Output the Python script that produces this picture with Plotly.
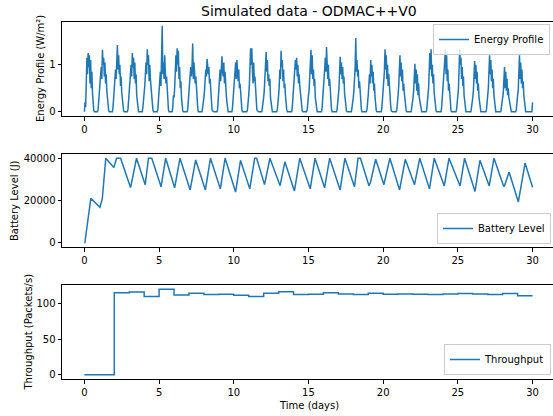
import plotly.graph_objects as go

# ---------------- data ----------------
# Energy profile (W/m^2), hourly samples, one row per day (24 h)
energy_rows = [
    [0.0, 0.2, 0.1, 0.55, 1.15, 0.8, 1.25, 0.95, 1.2, 0.6, 1.1, 0.5, 0.85, 0.4, 0.15, 0.03, 0, 0, 0, 0, 0, 0, 0.05, 0.25],
    [0.3, 0.6, 0.85, 0.95, 0.7, 1.32, 1.0, 1.15, 0.75, 1.05, 0.6, 0.8, 0.45, 0.3, 0.1, 0.02, 0, 0, 0, 0, 0, 0, 0.1, 0.35],
    [0.35, 0.65, 0.9, 0.7, 1.1, 1.42, 0.9, 1.2, 0.8, 1.0, 0.55, 0.75, 0.4, 0.25, 0.1, 0.02, 0, 0, 0, 0, 0, 0, 0.05, 0.3],
    [0.3, 0.6, 0.85, 1.0, 0.75, 1.25, 0.95, 1.15, 0.7, 1.05, 0.6, 0.8, 0.35, 0.2, 0.05, 0, 0, 0, 0, 0, 0, 0, 0.1, 0.4],
    [0.4, 0.55, 0.75, 1.05, 0.8, 1.33, 1.0, 1.2, 0.65, 1.0, 0.7, 0.5, 0.3, 0.15, 0.05, 0, 0, 0, 0, 0, 0, 0, 0.05, 0.3],
    [0.35, 0.6, 0.85, 0.55, 1.0, 1.83, 0.8, 1.05, 0.7, 1.2, 0.85, 0.6, 0.75, 0.4, 0.2, 0.05, 0, 0, 0, 0, 0, 0, 0.1, 0.35],
    [0.3, 0.5, 0.9, 1.2, 0.85, 1.35, 1.0, 1.3, 0.7, 0.95, 0.5, 0.65, 0.3, 0.1, 0.02, 0, 0, 0, 0, 0, 0, 0, 0.05, 0.3],
    [0.35, 0.55, 0.8, 0.95, 0.75, 1.0, 1.45, 0.7, 1.05, 0.85, 0.6, 0.75, 0.4, 0.25, 0.1, 0, 0, 0, 0, 0, 0, 0, 0.1, 0.3],
    [0.3, 0.45, 0.7, 0.9, 0.75, 1.12, 1.0, 0.8, 0.95, 0.6, 0.7, 0.4, 0.2, 0.05, 0.02, 0, 0, 0, 0, 0, 0, 0, 0.05, 0.35],
    [0.35, 0.6, 0.9, 0.65, 1.0, 1.18, 0.85, 0.75, 1.05, 0.6, 0.85, 0.45, 0.35, 0.2, 0.05, 0, 0, 0, 0, 0, 0, 0, 0.1, 0.3],
    [0.3, 0.5, 0.85, 1.05, 0.7, 1.1, 0.9, 0.65, 0.9, 0.5, 0.6, 0.3, 0.15, 0.05, 0, 0, 0, 0, 0, 0, 0, 0, 0.05, 0.35],
    [0.35, 0.55, 0.95, 1.35, 1.0, 1.35, 0.85, 0.6, 1.05, 0.65, 0.75, 0.4, 0.2, 0.05, 0.02, 0, 0, 0, 0, 0, 0, 0, 0.1, 0.3],
    [0.3, 0.45, 0.75, 1.0, 1.27, 0.85, 1.1, 0.65, 0.8, 0.55, 0.7, 0.3, 0.15, 0.05, 0, 0, 0, 0, 0, 0, 0, 0, 0.05, 0.35],
    [0.35, 0.55, 0.9, 0.7, 1.3, 0.95, 1.1, 0.65, 0.9, 0.5, 0.6, 0.35, 0.15, 0.05, 0, 0, 0, 0, 0, 0, 0, 0, 0.1, 0.3],
    [0.3, 0.5, 0.8, 1.1, 0.9, 1.15, 0.75, 1.0, 0.6, 0.8, 0.55, 0.4, 0.2, 0.05, 0.02, 0, 0, 0, 0, 0, 0, 0, 0.05, 0.35],
    [0.35, 0.45, 0.75, 1.05, 1.32, 0.8, 1.2, 0.7, 0.9, 0.55, 0.7, 0.3, 0.15, 0.05, 0, 0, 0, 0, 0, 0, 0, 0, 0.1, 0.3],
    [0.3, 0.55, 0.9, 1.15, 0.85, 1.38, 0.95, 0.7, 1.0, 0.55, 0.7, 0.35, 0.15, 0.05, 0, 0, 0, 0, 0, 0, 0, 0, 0.05, 0.35],
    [0.35, 0.5, 0.85, 1.17, 0.8, 1.05, 0.7, 0.95, 0.6, 0.75, 0.4, 0.25, 0.1, 0.02, 0, 0, 0, 0, 0, 0, 0, 0, 0.1, 0.3],
    [0.3, 0.45, 0.7, 0.95, 1.57, 0.85, 1.1, 0.75, 0.9, 0.5, 0.65, 0.35, 0.15, 0.05, 0, 0, 0, 0, 0, 0, 0, 0, 0.05, 0.35],
    [0.35, 0.55, 0.8, 0.6, 1.1, 0.75, 1.0, 0.6, 0.85, 0.45, 0.6, 0.3, 0.1, 0.02, 0, 0, 0, 0, 0, 0, 0, 0, 0.1, 0.3],
    [0.3, 0.5, 0.85, 1.33, 0.9, 1.2, 0.7, 1.0, 0.55, 0.8, 0.45, 0.3, 0.15, 0.02, 0, 0, 0, 0, 0, 0, 0, 0, 0.05, 0.35],
    [0.35, 0.55, 0.9, 1.2, 0.75, 1.05, 0.65, 0.9, 0.45, 0.6, 0.4, 0.25, 0.1, 0.02, 0, 0, 0, 0, 0, 0, 0, 0, 0.1, 0.3],
    [0.3, 0.45, 0.7, 1.02, 0.6, 0.9, 0.45, 0.8, 0.35, 0.6, 0.3, 0.2, 0.1, 0.02, 0, 0, 0, 0, 0, 0, 0, 0, 0.05, 0.35],
    [0.35, 0.5, 0.85, 1.25, 0.9, 1.33, 0.75, 1.0, 0.6, 0.8, 0.4, 0.25, 0.1, 0.02, 0, 0, 0, 0, 0, 0, 0, 0, 0.1, 0.3],
    [0.3, 0.55, 0.9, 1.1, 1.33, 0.8, 1.2, 0.65, 0.9, 0.45, 0.6, 0.3, 0.1, 0.02, 0, 0, 0, 0, 0, 0, 0, 0, 0.05, 0.35],
    [0.35, 0.5, 0.8, 1.33, 1.0, 1.15, 0.7, 0.95, 0.55, 0.75, 0.35, 0.2, 0.05, 0, 0, 0, 0, 0, 0, 0, 0, 0, 0.1, 0.3],
    [0.3, 0.45, 0.75, 1.08, 0.7, 1.0, 0.6, 0.85, 0.45, 0.6, 0.3, 0.15, 0.05, 0, 0, 0, 0, 0, 0, 0, 0, 0, 0.05, 0.35],
    [0.35, 0.5, 0.85, 1.2, 0.8, 1.1, 0.65, 0.9, 0.5, 0.7, 0.35, 0.2, 0.05, 0, 0, 0, 0, 0, 0, 0, 0, 0, 0.1, 0.3],
    [0.3, 0.4, 0.6, 0.95, 0.5, 0.85, 0.45, 0.7, 0.35, 0.5, 0.3, 0.2, 0.1, 0.02, 0, 0, 0, 0, 0, 0, 0, 0, 0.05, 0.3],
    [0.35, 0.45, 0.8, 1.2, 0.7, 1.05, 0.6, 0.9, 0.5, 0.65, 0.35, 0.2, 0.05, 0, 0, 0, 0, 0, 0, 0, 0, 0, 0, 0],
]
energy_final = [0.2]

# Battery level (J), turning points of the trace
battery_t = [0, 0.03, 0.43, 0.95, 1.04, 1.2, 1.43, 1.97, 2.15, 2.42, 3.09, 3.49, 4.07, 4.29, 4.51,
             5.13, 5.44, 6.04, 6.4, 7.08, 7.45, 8.1, 8.44, 9.1, 9.42, 10.12, 10.45, 11.07, 11.4,
             11.53, 12.06, 12.42, 13.1, 13.42, 14.06, 14.42, 15.12, 15.44, 16.08, 16.42, 17.12,
             17.44, 18.08, 18.32, 18.48, 19.05, 19.15, 19.5, 20.05, 20.45, 21.1, 21.48, 22.1,
             22.45, 23.1, 23.42, 24.09, 24.41, 25.15, 25.45, 26.15, 26.48, 27.1, 27.42, 28.06,
             28.12, 28.43, 29.05, 29.5, 30.0]
battery_v = [0, 0, 21000, 17500, 16800, 21000, 40000, 35600, 40000, 40000, 26100, 40000, 27500,
             40000, 40000, 26500, 40000, 26000, 40000, 25000, 39200, 25000, 40000, 25500, 40000,
             24000, 39000, 25500, 40000, 40000, 27500, 40000, 27000, 38300, 24500, 40000, 25500,
             40000, 26000, 40000, 25000, 40000, 26500, 40000, 40000, 27000, 28500, 39500, 27500,
             40000, 25000, 39500, 27500, 40000, 25500, 40000, 26900, 40000, 26900, 40000, 24300,
             39000, 26900, 40000, 26900, 26900, 33500, 19300, 37700, 26300]

# Throughput (packets/s), daily steps
throughput_days = list(range(31))
throughput_v = [0, 0, 115, 116, 110, 120, 112, 114.5, 112.5, 113, 111.5, 110, 114.5, 116.5, 112.5,
                113, 115, 113.5, 112.5, 114.5, 113, 113.5, 113, 112.5, 113.5, 114, 113.5, 112.5,
                114, 111, 111]

title_text = "Simulated data - ODMAC++V0"
ylabels = ["Energy Profile (W/m²)", "Battery Level (J)", "Throughput (Packets/s)"]
xlabel = "Time (days)"
x_ticks = [0, 5, 10, 15, 20, 25, 30]
energy_ticks = [0, 1]
battery_ticks = [0, 20000, 40000]
throughput_ticks = [0, 50, 100]

# ---------------- figure ----------------
energy = [v for row in energy_rows for v in row] + energy_final
energy_t = [h / 24 for h in range(len(energy))]

BLUE = "#1f77b4"
FONT = "DejaVu Sans"
W, H = 553, 416
ML, MR, MT, MB = 62, 0, 22, 37
PH = H - MT - MB
PW = W - ML - MR


def py(px):
    return (H - MB - px) / PH


def pxx(px):
    return (px - ML) / PW


fig = go.Figure()
fig.add_trace(go.Scatter(x=energy_t, y=energy, mode="lines", name="Energy Profile",
                         line=dict(color=BLUE, width=1.5), xaxis="x", yaxis="y", legend="legend"))
fig.add_trace(go.Scatter(x=battery_t, y=battery_v, mode="lines", name="Battery Level",
                         line=dict(color=BLUE, width=1.5), xaxis="x2", yaxis="y2", legend="legend2"))
fig.add_trace(go.Scatter(x=throughput_days, y=throughput_v, mode="lines", name="Throughput",
                         line=dict(color=BLUE, width=1.5, shape="hv"), xaxis="x3", yaxis="y3",
                         legend="legend3"))

xcommon = dict(range=[-1.5, 31.37], tickvals=x_ticks, ticktext=[str(v) for v in x_ticks],
               ticks="outside", ticklen=3.5, tickwidth=0.8,
               tickcolor="black", showline=True, linecolor="black", linewidth=1, mirror=True,
               showgrid=False, zeroline=False, tickfont=dict(size=10, color="black"), domain=[0, 1])
ycommon = dict(ticks="outside", ticklen=3.5, tickwidth=0.8, tickcolor="black", showline=True,
               linecolor="black", linewidth=1, mirror=False, showgrid=False, zeroline=False,
               tickfont=dict(size=10, color="black"))

legcommon = dict(xanchor="right", bgcolor="rgba(255,255,255,0.8)", bordercolor="#cccccc",
                 borderwidth=1, font=dict(size=10, color="black", family=FONT), itemwidth=30)

fig.update_layout(
    width=W, height=H, autosize=False,
    margin=dict(l=ML, r=MR, t=MT, b=MB, pad=0),
    paper_bgcolor="white", plot_bgcolor="white",
    font=dict(family=FONT, size=10, color="black"),
    xaxis=dict(anchor="y", **xcommon),
    xaxis2=dict(anchor="y2", **xcommon),
    xaxis3=dict(anchor="y3", **xcommon),
    yaxis=dict(anchor="x", domain=[py(116), py(22)], range=[-0.09, 1.91], tickvals=energy_ticks,
               ticktext=[str(v) for v in energy_ticks], **ycommon),
    yaxis2=dict(anchor="x2", domain=[py(247), py(154)], range=[-2000, 42000],
                tickvals=battery_ticks, ticktext=[str(v) for v in battery_ticks], **ycommon),
    yaxis3=dict(anchor="x3", domain=[py(379), py(285)], range=[-6, 126], tickvals=throughput_ticks,
                ticktext=[str(v) for v in throughput_ticks], **ycommon),
    legend=dict(x=pxx(550), y=py(24), yanchor="top", **legcommon),
    legend2=dict(x=pxx(551), y=py(244), yanchor="bottom", **legcommon),
    legend3=dict(x=pxx(551), y=py(375), yanchor="bottom", **legcommon),
    showlegend=True,
)

annots = [
    dict(text=title_text, x=pxx(309), y=py(11), font=dict(size=14)),
    dict(text=xlabel, x=pxx(309), y=py(405), font=dict(size=10)),
    dict(text=ylabels[0], x=pxx(40), y=py(69), textangle=-90, font=dict(size=10)),
    dict(text=ylabels[1], x=pxx(14.5), y=py(200.5), textangle=-90, font=dict(size=10)),
    dict(text=ylabels[2], x=pxx(27.5), y=py(332), textangle=-90, font=dict(size=10)),
]
for a in annots:
    fig.add_annotation(xref="paper", yref="paper", showarrow=False, xanchor="center",
                       yanchor="middle", **a)

fig.write_html("out.html")
